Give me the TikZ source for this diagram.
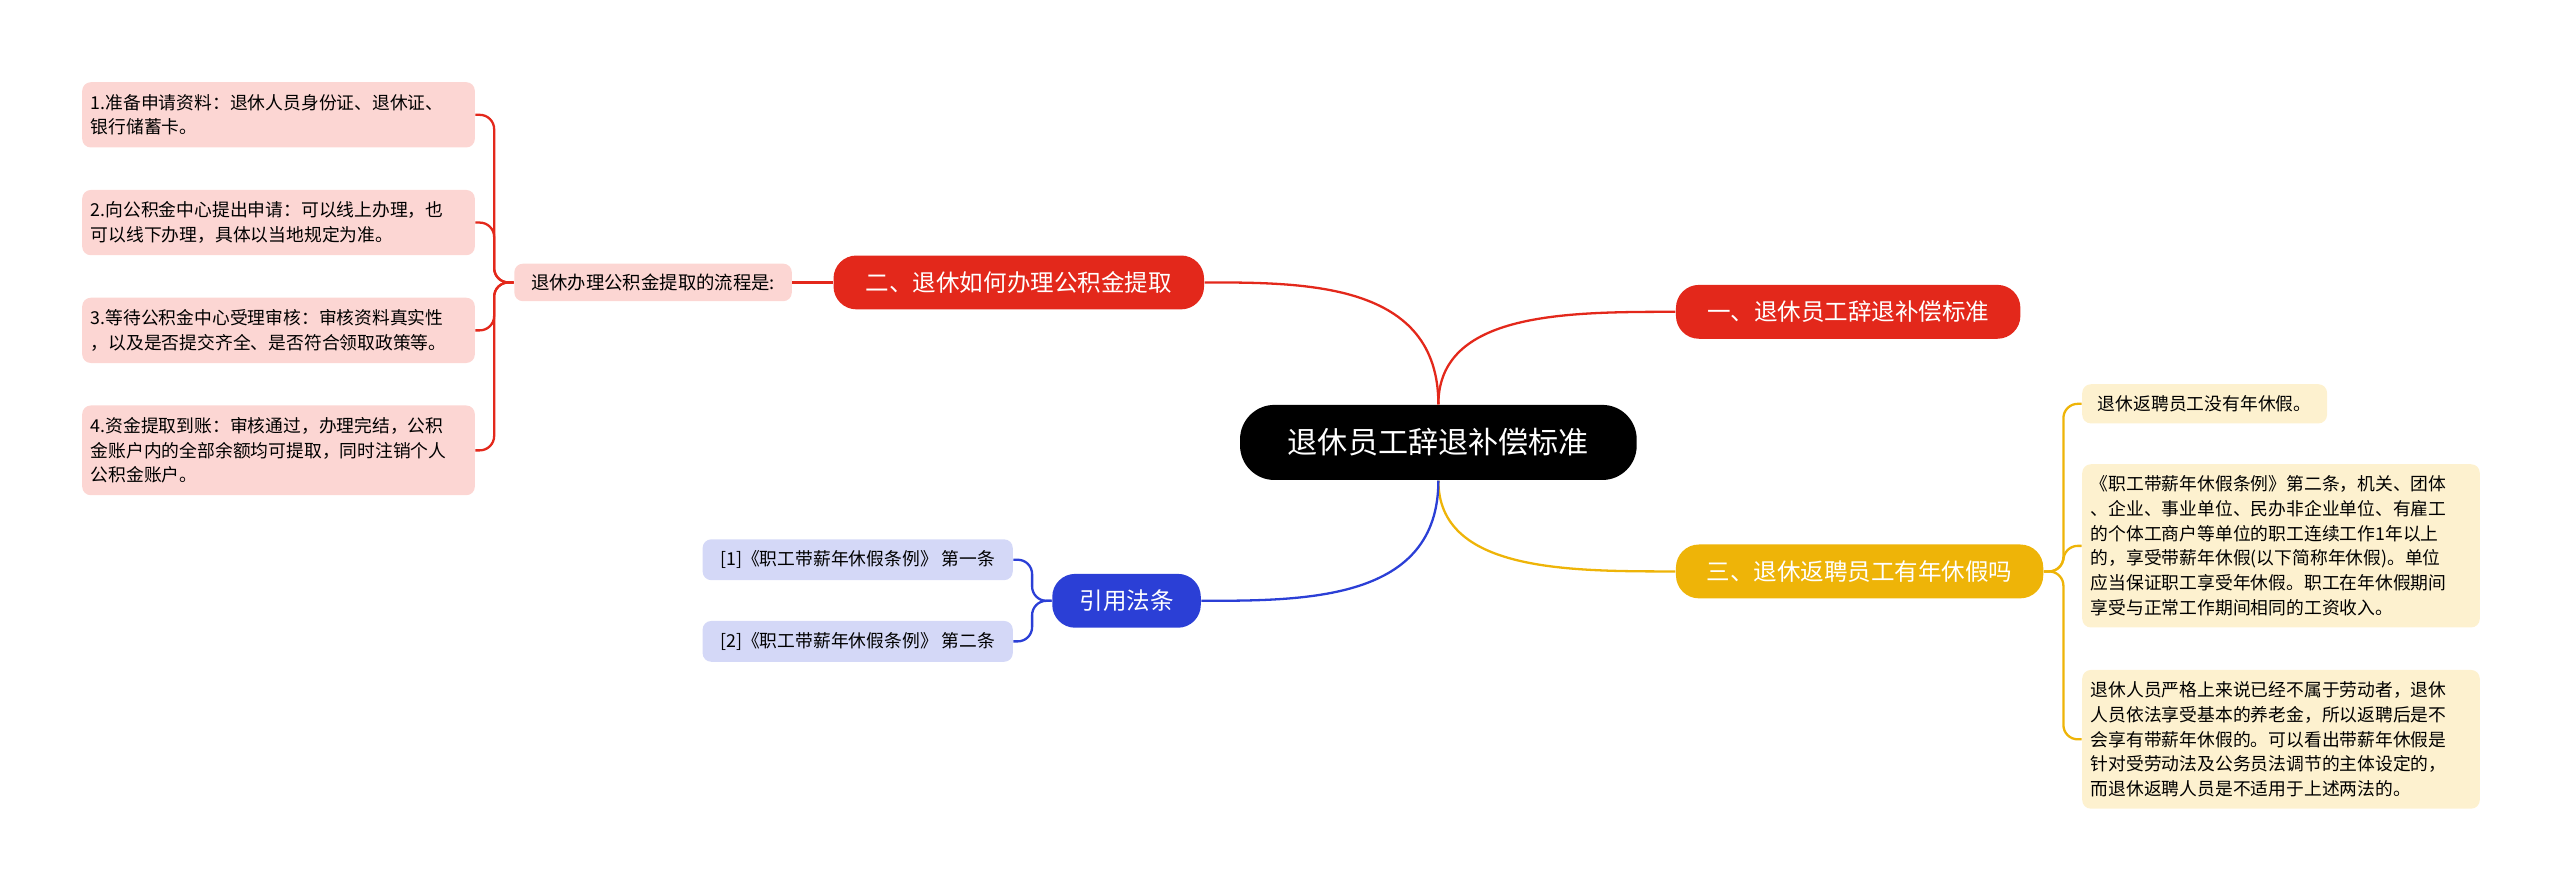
\documentclass[tikz,border=0pt]{standalone}
\usepackage{fontspec}
\setmainfont{Noto Sans CJK SC}
\begin{document}
\definecolor{rd}{HTML}{E3281B}
\definecolor{yl}{HTML}{EEB408}
\definecolor{bl}{HTML}{2B3FD6}
\definecolor{pk}{HTML}{FCD6D3}
\definecolor{lb}{HTML}{D4D8F7}
\definecolor{ly}{HTML}{FDF1CF}
\begin{tikzpicture}[x=0.02cm,y=-0.02cm,
 br/.style={rounded corners=8pt,text=white,font=\fontsize{8.2}{10}\selectfont,minimum height=0.66cm,inner xsep=8pt},
 leaf/.style={rounded corners=3pt,font=\fontsize{6.2}{8.6}\selectfont,align=left,inner sep=3pt,anchor=north west},
 rl/.style={rd,line width=0.8pt},
 yline/.style={yl,line width=0.8pt},
 bline/.style={bl,line width=0.8pt}]
\useasboundingbox (0,0) rectangle (1568,546);
\node[fill=black,text=white,rounded corners=12pt,minimum width=4.86cm,minimum height=0.92cm,font=\fontsize{10.5}{12}\selectfont] (c) at (881,271) {退休员工辞退补偿标准};
\node[br,fill=rd,minimum width=4.22cm] (b1) at (1132,191) {一、退休员工辞退补偿标准};
\node[br,fill=rd,minimum width=4.54cm] (b2) at (624,173) {二、退休如何办理公积金提取};
\node[br,fill=yl,minimum width=4.5cm] (b3) at (1139,350) {三、退休返聘员工有年休假吗};
\node[br,fill=bl,minimum width=1.82cm] (b4) at (690,368) {引用法条};
\draw[rl] (c.north) .. controls (881,191) and (960,191) .. (b1.west);
\draw[rl] (c.north) .. controls (881,173) and (800,173) .. (b2.east);
\draw[yline] (c.south) .. controls (881,350) and (960,350) .. (b3.west);
\draw[bline] (c.south) .. controls (881,368) and (800,368) .. (b4.east);
% branch 2
\node[fill=pk,rounded corners=3pt,font=\fontsize{6.4}{8}\selectfont,minimum width=3.4cm,minimum height=0.46cm] (s) at (400,173) {退休办理公积金提取的流程是:};
\draw[rl] (b2.west) -- (s.east);
\node[leaf,fill=pk,text width=4.6cm,minimum height=0.8cm] (l1) at (50,50) {1.准备申请资料：退休人员身份证、退休证、\\银行储蓄卡。};
\node[leaf,fill=pk,text width=4.6cm,minimum height=0.8cm] (l2) at (50,116) {2.向公积金中心提出申请：可以线上办理，也\\可以线下办理，具体以当地规定为准。};
\node[leaf,fill=pk,text width=4.6cm,minimum height=0.8cm] (l3) at (50,182) {3.等待公积金中心受理审核：审核资料真实性\\，以及是否提交齐全、是否符合领取政策等。};
\node[leaf,fill=pk,text width=4.6cm,minimum height=1.1cm] (l4) at (50,248) {4.资金提取到账：审核通过，办理完结，公积\\金账户内的全部余额均可提取，同时注销个人\\公积金账户。};
\foreach \l in {l1,l2,l3,l4} \draw[rl,rounded corners=5pt] (s.west) -- ++(-12,0) |- (\l.east);
% branch 4
\node[leaf,fill=lb,minimum width=3.8cm,minimum height=0.5cm] (r1) at (430,330) {[1]《职工带薪年休假条例》 第一条};
\node[leaf,fill=lb,minimum width=3.8cm,minimum height=0.5cm] (r2) at (430,380) {[2]《职工带薪年休假条例》 第二条};
\foreach \l in {r1,r2} \draw[bline,rounded corners=5pt] (b4.west) -- ++(-12,0) |- (\l.east);
% branch 3
\node[leaf,fill=ly,minimum width=3cm,minimum height=0.48cm] (y1) at (1275,235) {退休返聘员工没有年休假。};
\node[leaf,fill=ly,text width=4.66cm,minimum height=2cm] (y2) at (1275,284) {《职工带薪年休假条例》第二条，机关、团体\\、企业、事业单位、民办非企业单位、有雇工\\的个体工商户等单位的职工连续工作1年以上\\的，享受带薪年休假(以下简称年休假)。单位\\应当保证职工享受年休假。职工在年休假期间\\享受与正常工作期间相同的工资收入。};
\node[leaf,fill=ly,text width=4.66cm,minimum height=1.7cm] (y3) at (1275,410) {退休人员严格上来说已经不属于劳动者，退休\\人员依法享受基本的养老金，所以返聘后是不\\会享有带薪年休假的。可以看出带薪年休假是\\针对受劳动法及公务员法调节的主体设定的，\\而退休返聘人员是不适用于上述两法的。};
\foreach \l in {y1,y2,y3} \draw[yline,rounded corners=5pt] (b3.east) -- ++(12,0) |- (\l.west);
\end{tikzpicture}
\end{document}
